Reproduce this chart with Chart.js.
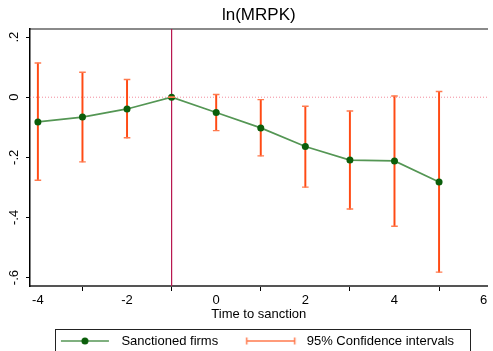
<!DOCTYPE html>
<html>
<head>
<meta charset="utf-8">
<script src="https://cdn.jsdelivr.net/npm/chart.js@4.4.1/dist/chart.umd.min.js"></script>
<style>
html,body{margin:0;padding:0;background:#fff;}
#wrap{width:493px;height:351px;position:relative;}
</style>
</head>
<body>
<div id="wrap"><canvas id="c" width="493" height="351"></canvas></div>
<script>
// ---- data ----
const periods = [-4, -3, -2, -1, 0, 1, 2, 3, 4, 5];
const coef    = [-0.082, -0.066, -0.039, 0, -0.051, -0.102, -0.164, -0.209, -0.212, -0.282];
const ciLow   = [-0.276, -0.215, -0.135, 0, -0.111, -0.195, -0.299, -0.372, -0.429, -0.582];
const ciHigh  = [0.114, 0.083, 0.059, 0, 0.009, -0.008, -0.030, -0.046, 0.004, 0.019];
const xTicks = [-4, -2, 0, 2, 4, 6];
const xTickLabels = ['-4', '-2', '0', '2', '4', '6'];
const yTicks = [0.2, 0, -0.2, -0.4, -0.6];
const yTickLabels = ['.2', '0', '-.2', '-.4', '-.6'];
const eventTime = -1;
const refZero = 0;
const xMin = -4.177, xMax = 6.089;
const yMin = -0.628, yMax = 0.227;
const titleText = 'ln(MRPK)';
const xTitle = 'Time to sanction';
const legendLabels = ['Sanctioned firms', '95% Confidence intervals'];

const FONT = "'Liberation Sans', Arial, Helvetica, sans-serif";
const GREEN_LINE = 'rgb(84,150,84)';
const GREEN_DOT = '#0b5e0b';
const CI_COLOR = '#ff4a14';
const CAP_COLOR = '#ff7a4e';

// legend symbol images
function makeSym(kind) {
  const cv = document.createElement('canvas');
  cv.width = 76; cv.height = 12;
  const g = cv.getContext('2d');
  if (kind === 0) {
    g.strokeStyle = GREEN_LINE; g.lineWidth = 1.6;
    g.beginPath(); g.moveTo(22, 6); g.lineTo(70, 6); g.stroke();
    g.fillStyle = GREEN_DOT;
    g.beginPath(); g.arc(46, 6, 3.5, 0, Math.PI * 2); g.fill();
  } else {
    g.strokeStyle = CAP_COLOR; g.lineWidth = 1.5;
    g.beginPath(); g.moveTo(22, 6); g.lineTo(71, 6); g.stroke();
    g.beginPath(); g.moveTo(22.5, 2.5); g.lineTo(22.5, 9.5); g.moveTo(70.5, 2.5); g.lineTo(70.5, 9.5); g.stroke();
  }
  return cv;
}
const sym0 = makeSym(0), sym1 = makeSym(1);

const pts = periods.map((p, i) => ({x: p, y: coef[i]}));
const bars = periods.map((p, i) => ({x: p, y: [ciLow[i], ciHigh[i]]}));
const capsLo = periods.map((p, i) => ({x: p, y: ciLow[i]}));
const capsHi = periods.map((p, i) => ({x: p, y: ciHigh[i]}));

const bgPlugin = {
  id: 'bg',
  beforeDraw(chart) {
    const c = chart.ctx;
    c.save(); c.fillStyle = '#fff'; c.fillRect(0, 0, chart.width, chart.height); c.restore();
  },
  afterDraw(chart) {
    const c = chart.ctx;
    c.save();
    c.strokeStyle = '#222'; c.lineWidth = 1;
    c.strokeRect(55.5, 329.5, 415, 40);
    c.restore();
  }
};

new Chart(document.getElementById('c'), {
  type: 'line',
  data: {
    datasets: [
      { type: 'line', data: [{x: xMin, y: refZero}, {x: xMax, y: refZero}], borderColor: 'rgba(240,120,140,0.85)', borderWidth: 1, borderDash: [1, 2], pointRadius: 0, order: 5 },
      { type: 'line', data: [{x: eventTime, y: yMin}, {x: eventTime, y: yMax}], borderColor: '#b8164e', borderWidth: 1.2, pointRadius: 0, order: 4 },
      { type: 'bar', data: bars, backgroundColor: CI_COLOR, borderWidth: 0, barThickness: 1.3, order: 3 },
      { type: 'line', data: pts, borderColor: GREEN_LINE, borderWidth: 1.7, pointRadius: 3.5, pointBackgroundColor: GREEN_DOT, pointBorderWidth: 0, tension: 0, order: 2 },
      { type: 'line', data: capsLo, showLine: false, pointStyle: 'line', pointRadius: 3.3, pointBorderColor: CAP_COLOR, pointBorderWidth: 1.4, order: 1 },
      { type: 'line', data: capsHi, showLine: false, pointStyle: 'line', pointRadius: 3.3, pointBorderColor: CAP_COLOR, pointBorderWidth: 1.4, order: 1 }
    ]
  },
  options: {
    responsive: false,
    animation: false,
    events: [],
    layout: { padding: { left: 0, right: 0, top: 0, bottom: -6.5 } },
    plugins: {
      title: { display: false },
      tooltip: { enabled: false },
      legend: {
        display: true,
        position: 'bottom',
        align: 'center',
        onClick: null,
        labels: {
          usePointStyle: true,
          pointStyleWidth: 76,
          padding: 6,
          color: '#000',
          font: { family: FONT, size: 13 },
          generateLabels: () => [
            { text: legendLabels[0], pointStyle: sym0, fillStyle: 'transparent', strokeStyle: 'transparent', lineWidth: 0, hidden: false, fontColor: '#000' },
            { text: legendLabels[1], pointStyle: sym1, fillStyle: 'transparent', strokeStyle: 'transparent', lineWidth: 0, hidden: false, fontColor: '#000' }
          ]
        }
      }
    },
    scales: {
      x: {
        type: 'linear', position: 'bottom', min: xMin, max: xMax, offset: false,
        afterBuildTicks: s => { s.ticks = xTicks.map(v => ({value: v})); },
        afterFit: s => { s.height = 42.5; },
        ticks: { color: '#000', padding: 1.5, font: { family: FONT, size: 13 }, maxRotation: 0,
          callback: (v) => { const i = xTicks.indexOf(v); return i >= 0 ? xTickLabels[i] : ''; } },
        grid: { drawOnChartArea: false, drawTicks: true, tickLength: 5, tickColor: '#000', tickWidth: 1 },
        border: { display: true, color: '#555', width: 2 },
        title: { display: true, text: xTitle, color: '#000', font: { family: FONT, size: 13 }, padding: { top: 0, bottom: 6.7 } }
      },
      x2: {
        type: 'linear', position: 'top', min: xMin, max: xMax, display: true,
        afterFit: s => { s.height = 29; },
        ticks: { display: false },
        grid: { drawOnChartArea: false, drawTicks: false },
        border: { display: true, color: '#8a8a8a', width: 2 },
        title: { display: true, text: titleText, color: '#000', font: { family: FONT, size: 17 }, padding: { top: 4.8, bottom: 0 } }
      },
      y: {
        type: 'linear', position: 'left', min: yMin, max: yMax,
        afterBuildTicks: s => { s.ticks = yTicks.map(v => ({value: v})); },
        afterFit: s => { s.width = 30; },
        ticks: { color: '#000', padding: 3.5, minRotation: 90, maxRotation: 90, crossAlign: 'center', font: { family: FONT, size: 13 },
          callback: (v) => { const i = yTicks.findIndex(t => Math.abs(t - v) < 1e-9); return i >= 0 ? yTickLabels[i] : ''; } },
        grid: { drawOnChartArea: false, drawTicks: true, tickLength: 4, tickColor: '#000', tickWidth: 1 },
        border: { display: true, color: '#000', width: 1.5 }
      }
    }
  },
  plugins: [bgPlugin]
});
</script>
</body>
</html>
